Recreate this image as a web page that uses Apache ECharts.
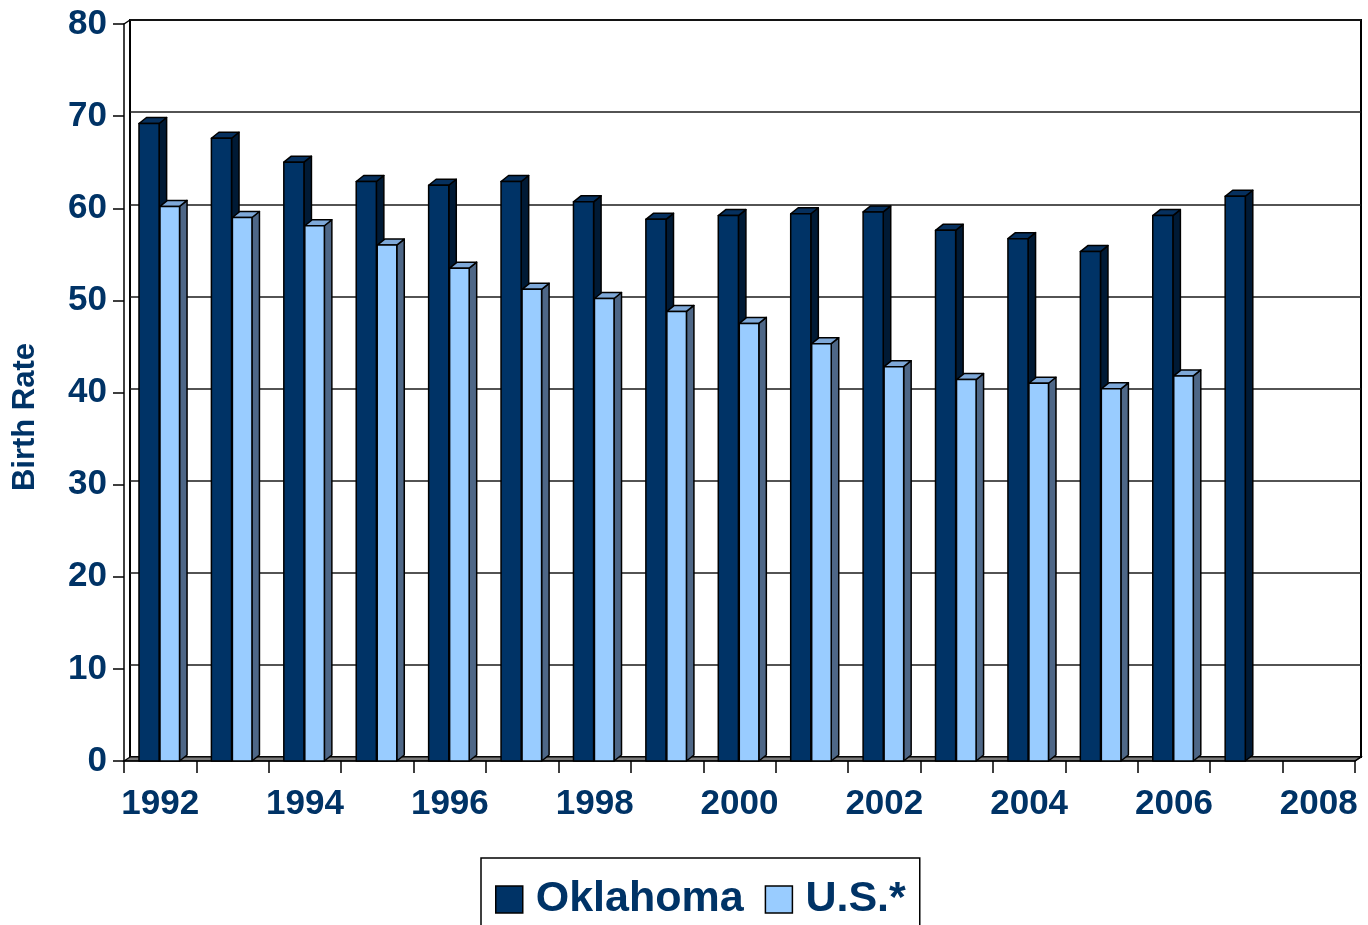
<!DOCTYPE html>
<html>
<head>
<meta charset="utf-8">
<script src="https://cdn.jsdelivr.net/npm/echarts@6/dist/echarts.min.js"></script>
<style>
  html, body { margin: 0; padding: 0; background: #fff; }
  #chart { width: 1368px; height: 925px; }
</style>
</head>
<body>
<div id="chart"></div>
<script>
const years = ['1992','1993','1994','1995','1996','1997','1998','1999','2000','2001','2002','2003','2004','2005','2006','2007','2008'];
const oklahoma = [69.2, 67.6, 65.0, 62.9, 62.5, 62.9, 60.7, 58.8, 59.2, 59.4, 59.6, 57.6, 56.7, 55.3, 59.2, 61.3, null];
const us = [60.2, 59.0, 58.1, 56.0, 53.5, 51.2, 50.2, 48.8, 47.5, 45.3, 42.8, 41.4, 41.0, 40.4, 41.8, null, null];
const yTicks = [0, 10, 20, 30, 40, 50, 60, 70, 80];
const yTitle = 'Birth Rate';

const NAVY = '#003366';
const FONT = '"Liberation Sans", Arial, sans-serif';
const DX = 7.5, DY = 6;

function makeRender(offFrac, widthFrac, cFront, cSide, cTop) {
  return function (params, api) {
    const v = api.value(1);
    if (v == null || isNaN(v)) return null;
    const idx = api.value(0);
    const base = api.coord([idx, 0]);
    const top = api.coord([idx, v]);
    const bw = api.size([1, 0])[0];
    const x0 = base[0] + offFrac * bw;
    const x1 = x0 + widthFrac * bw;
    const yb = base[1], yt = top[1];
    const st = { stroke: '#000', lineWidth: 1.5, lineJoin: 'round' };
    return {
      type: 'group',
      children: [
        { type: 'polygon', shape: { points: [[x1, yt], [x1 + DX, yt - DY], [x1 + DX, yb - DY], [x1, yb]] },
          style: Object.assign({ fill: cSide }, st) },
        { type: 'polygon', shape: { points: [[x0, yt], [x0 + DX, yt - DY], [x1 + DX, yt - DY], [x1, yt]] },
          style: Object.assign({ fill: cTop }, st) },
        { type: 'rect', shape: { x: x0, y: yt, width: x1 - x0, height: yb - yt },
          style: Object.assign({ fill: cFront }, st) }
      ]
    };
  };
}

const chart = echarts.init(document.getElementById('chart'), null, { renderer: 'canvas' });
chart.setOption({
  backgroundColor: '#fff',
  animation: false,
  grid: [
    { left: 124, right: 13, top: 24, bottom: 164, containLabel: false, outerBoundsMode: 'none' },
    { left: 130, right: 7, top: 20, bottom: 168, show: true, borderColor: '#000', borderWidth: 2, backgroundColor: 'transparent', z: 0, outerBoundsMode: 'none' }
  ],
  xAxis: [
    {
      type: 'category', gridIndex: 0, data: years, boundaryGap: true,
      axisLine: { show: true, lineStyle: { color: '#000', width: 1.5 } },
      axisTick: { show: true, interval: 0, length: 12, lineStyle: { color: '#000', width: 1.5 } },
      axisLabel: { interval: 1, margin: 26, color: NAVY, fontSize: 35, fontWeight: 'bold', fontFamily: FONT },
      splitLine: { show: false }, z: 3
    },
    { type: 'value', gridIndex: 1, show: false, min: 0, max: 1 }
  ],
  yAxis: [
    {
      type: 'value', gridIndex: 0, min: yTicks[0], max: yTicks[yTicks.length - 1], interval: 10,
      axisLine: { show: true, lineStyle: { color: '#000', width: 1.5 } },
      axisTick: { show: true, length: 11, lineStyle: { color: '#000', width: 1.5 } },
      axisLabel: { margin: 17, color: NAVY, fontSize: 35, fontWeight: 'bold', fontFamily: FONT },
      splitLine: { show: false }, z: 3
    },
    {
      type: 'value', gridIndex: 1, min: yTicks[0], max: yTicks[yTicks.length - 1], interval: 10,
      axisLine: { show: false }, axisTick: { show: false }, axisLabel: { show: false },
      splitLine: { show: true, lineStyle: { color: '#1a1a1a', width: 1.5 } }, z: 0
    }
  ],
  legend: {
    left: 481, top: 858, orient: 'horizontal',
    itemWidth: 27, itemHeight: 27, itemGap: 21,
    padding: [20, 14, 20, 14],
    borderColor: '#000', borderWidth: 1.5, backgroundColor: '#fff',
    icon: 'rect',
    itemStyle: { borderColor: '#000', borderWidth: 1.5 },
    textStyle: { fontSize: 43, fontWeight: 'bold', color: NAVY, fontFamily: FONT, padding: [0, 0, 0, 8] },
    data: ['Oklahoma', 'U.S.*']
  },
  graphic: [
    { type: 'polygon', z: 1, shape: { points: [[124, 761], [130, 757], [1361, 757], [1355, 761]] },
      style: { fill: '#7a7a7a', stroke: '#000', lineWidth: 1.2 } },
    { type: 'line', z: 4, shape: { x1: 124, y1: 24, x2: 130, y2: 20 }, style: { stroke: '#000', lineWidth: 1.5 } },
    { type: 'line', z: 4, shape: { x1: 1355, y1: 761, x2: 1361, y2: 757 }, style: { stroke: '#000', lineWidth: 1.5 } },
    { type: 'text', z: 4, x: 25, y: 417, rotation: Math.PI / 2,
      style: { text: yTitle, fill: NAVY, font: 'bold 31px ' + FONT, align: 'center', verticalAlign: 'middle' } }
  ],
  series: [
    {
      name: 'Oklahoma', type: 'custom', xAxisIndex: 0, yAxisIndex: 0, z: 5, clip: false,
      itemStyle: { color: NAVY },
      renderItem: makeRender(-0.293, 0.278, '#003366', '#001a35', '#06305e'),
      encode: { x: 0, y: 1 },
      data: years.map((y, i) => [i, oklahoma[i]])
    },
    {
      name: 'U.S.*', type: 'custom', xAxisIndex: 0, yAxisIndex: 0, z: 6, clip: false,
      itemStyle: { color: '#99ccff' },
      renderItem: makeRender(-0.003, 0.27, '#99ccff', '#4e6787', '#7ea8d8'),
      encode: { x: 0, y: 1 },
      data: years.map((y, i) => [i, us[i]])
    }
  ]
});
</script>
</body>
</html>
